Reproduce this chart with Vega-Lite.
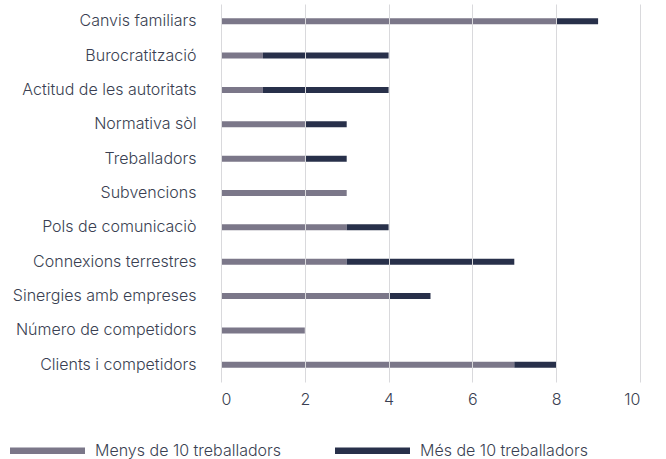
{
  "$schema": "https://vega.github.io/schema/vega-lite/v6.json",
  "width": 419,
  "height": 378,
  "autosize": "none",
  "padding": {"left": 221, "top": 4, "right": 26, "bottom": 77},
  "background": "white",
  "data": {
    "values": [
      {"cat": "Canvis familiars", "serie": "Menys de 10 treballadors", "o": 1, "v": 8},
      {"cat": "Canvis familiars", "serie": "Més de 10 treballadors", "o": 2, "v": 1},
      {"cat": "Burocratització", "serie": "Menys de 10 treballadors", "o": 1, "v": 1},
      {"cat": "Burocratització", "serie": "Més de 10 treballadors", "o": 2, "v": 3},
      {"cat": "Actitud de les autoritats", "serie": "Menys de 10 treballadors", "o": 1, "v": 1},
      {"cat": "Actitud de les autoritats", "serie": "Més de 10 treballadors", "o": 2, "v": 3},
      {"cat": "Normativa sòl", "serie": "Menys de 10 treballadors", "o": 1, "v": 2},
      {"cat": "Normativa sòl", "serie": "Més de 10 treballadors", "o": 2, "v": 1},
      {"cat": "Treballadors", "serie": "Menys de 10 treballadors", "o": 1, "v": 2},
      {"cat": "Treballadors", "serie": "Més de 10 treballadors", "o": 2, "v": 1},
      {"cat": "Subvencions", "serie": "Menys de 10 treballadors", "o": 1, "v": 3},
      {"cat": "Subvencions", "serie": "Més de 10 treballadors", "o": 2, "v": 0},
      {"cat": "Pols de comunicaciò", "serie": "Menys de 10 treballadors", "o": 1, "v": 3},
      {"cat": "Pols de comunicaciò", "serie": "Més de 10 treballadors", "o": 2, "v": 1},
      {"cat": "Connexions terrestres", "serie": "Menys de 10 treballadors", "o": 1, "v": 3},
      {"cat": "Connexions terrestres", "serie": "Més de 10 treballadors", "o": 2, "v": 4},
      {"cat": "Sinergies amb empreses", "serie": "Menys de 10 treballadors", "o": 1, "v": 4},
      {"cat": "Sinergies amb empreses", "serie": "Més de 10 treballadors", "o": 2, "v": 1},
      {"cat": "Número de competidors", "serie": "Menys de 10 treballadors", "o": 1, "v": 2},
      {"cat": "Número de competidors", "serie": "Més de 10 treballadors", "o": 2, "v": 0},
      {"cat": "Clients i competidors", "serie": "Menys de 10 treballadors", "o": 1, "v": 7},
      {"cat": "Clients i competidors", "serie": "Més de 10 treballadors", "o": 2, "v": 1}
    ]
  },
  "mark": {"type": "bar", "size": 6},
  "encoding": {
    "y": {
      "field": "cat",
      "type": "nominal",
      "sort": null,
      "title": null,
      "axis": {
        "domain": false,
        "ticks": false,
        "labelPadding": 25,
        "labelFont": "Inter",
        "labelFontWeight": 300,
        "labelFontSize": 16,
        "labelColor": "#3a3f52",
        "labelLimit": 260,
        "grid": false
      }
    },
    "x": {
      "field": "v",
      "type": "quantitative",
      "stack": "zero",
      "scale": {"domain": [0, 10], "nice": false},
      "title": null,
      "axis": {
        "values": [0, 2, 4, 6, 8, 10],
        "domain": false,
        "ticks": false,
        "labelPadding": 9,
        "labelFont": "Inter",
        "labelFontWeight": 300,
        "labelFontSize": 16,
        "labelColor": "#3a3f52",
        "grid": true,
        "gridColor": "#d9d9dc",
        "gridWidth": 1,
        "zindex": 1
      }
    },
    "order": {"field": "o", "type": "quantitative"},
    "color": {
      "field": "serie",
      "type": "nominal",
      "scale": {
        "domain": ["Menys de 10 treballadors", "Més de 10 treballadors"],
        "range": ["#7b7789", "#28304a"]
      },
      "legend": {
        "title": null,
        "orient": "none",
        "direction": "horizontal",
        "legendX": -211,
        "legendY": 409,
        "symbolType": "M-1,-0.085H1V0.085H-1Z",
        "symbolSize": 5625,
        "symbolStrokeWidth": 0,
        "symbolOpacity": 1,
        "labelOffset": 10,
        "columnPadding": 53,
        "labelFont": "Inter",
        "labelFontWeight": 300,
        "labelFontSize": 16,
        "labelColor": "#3a3f52",
        "labelLimit": 300
      }
    }
  },
  "config": {"view": {"stroke": null}}
}
